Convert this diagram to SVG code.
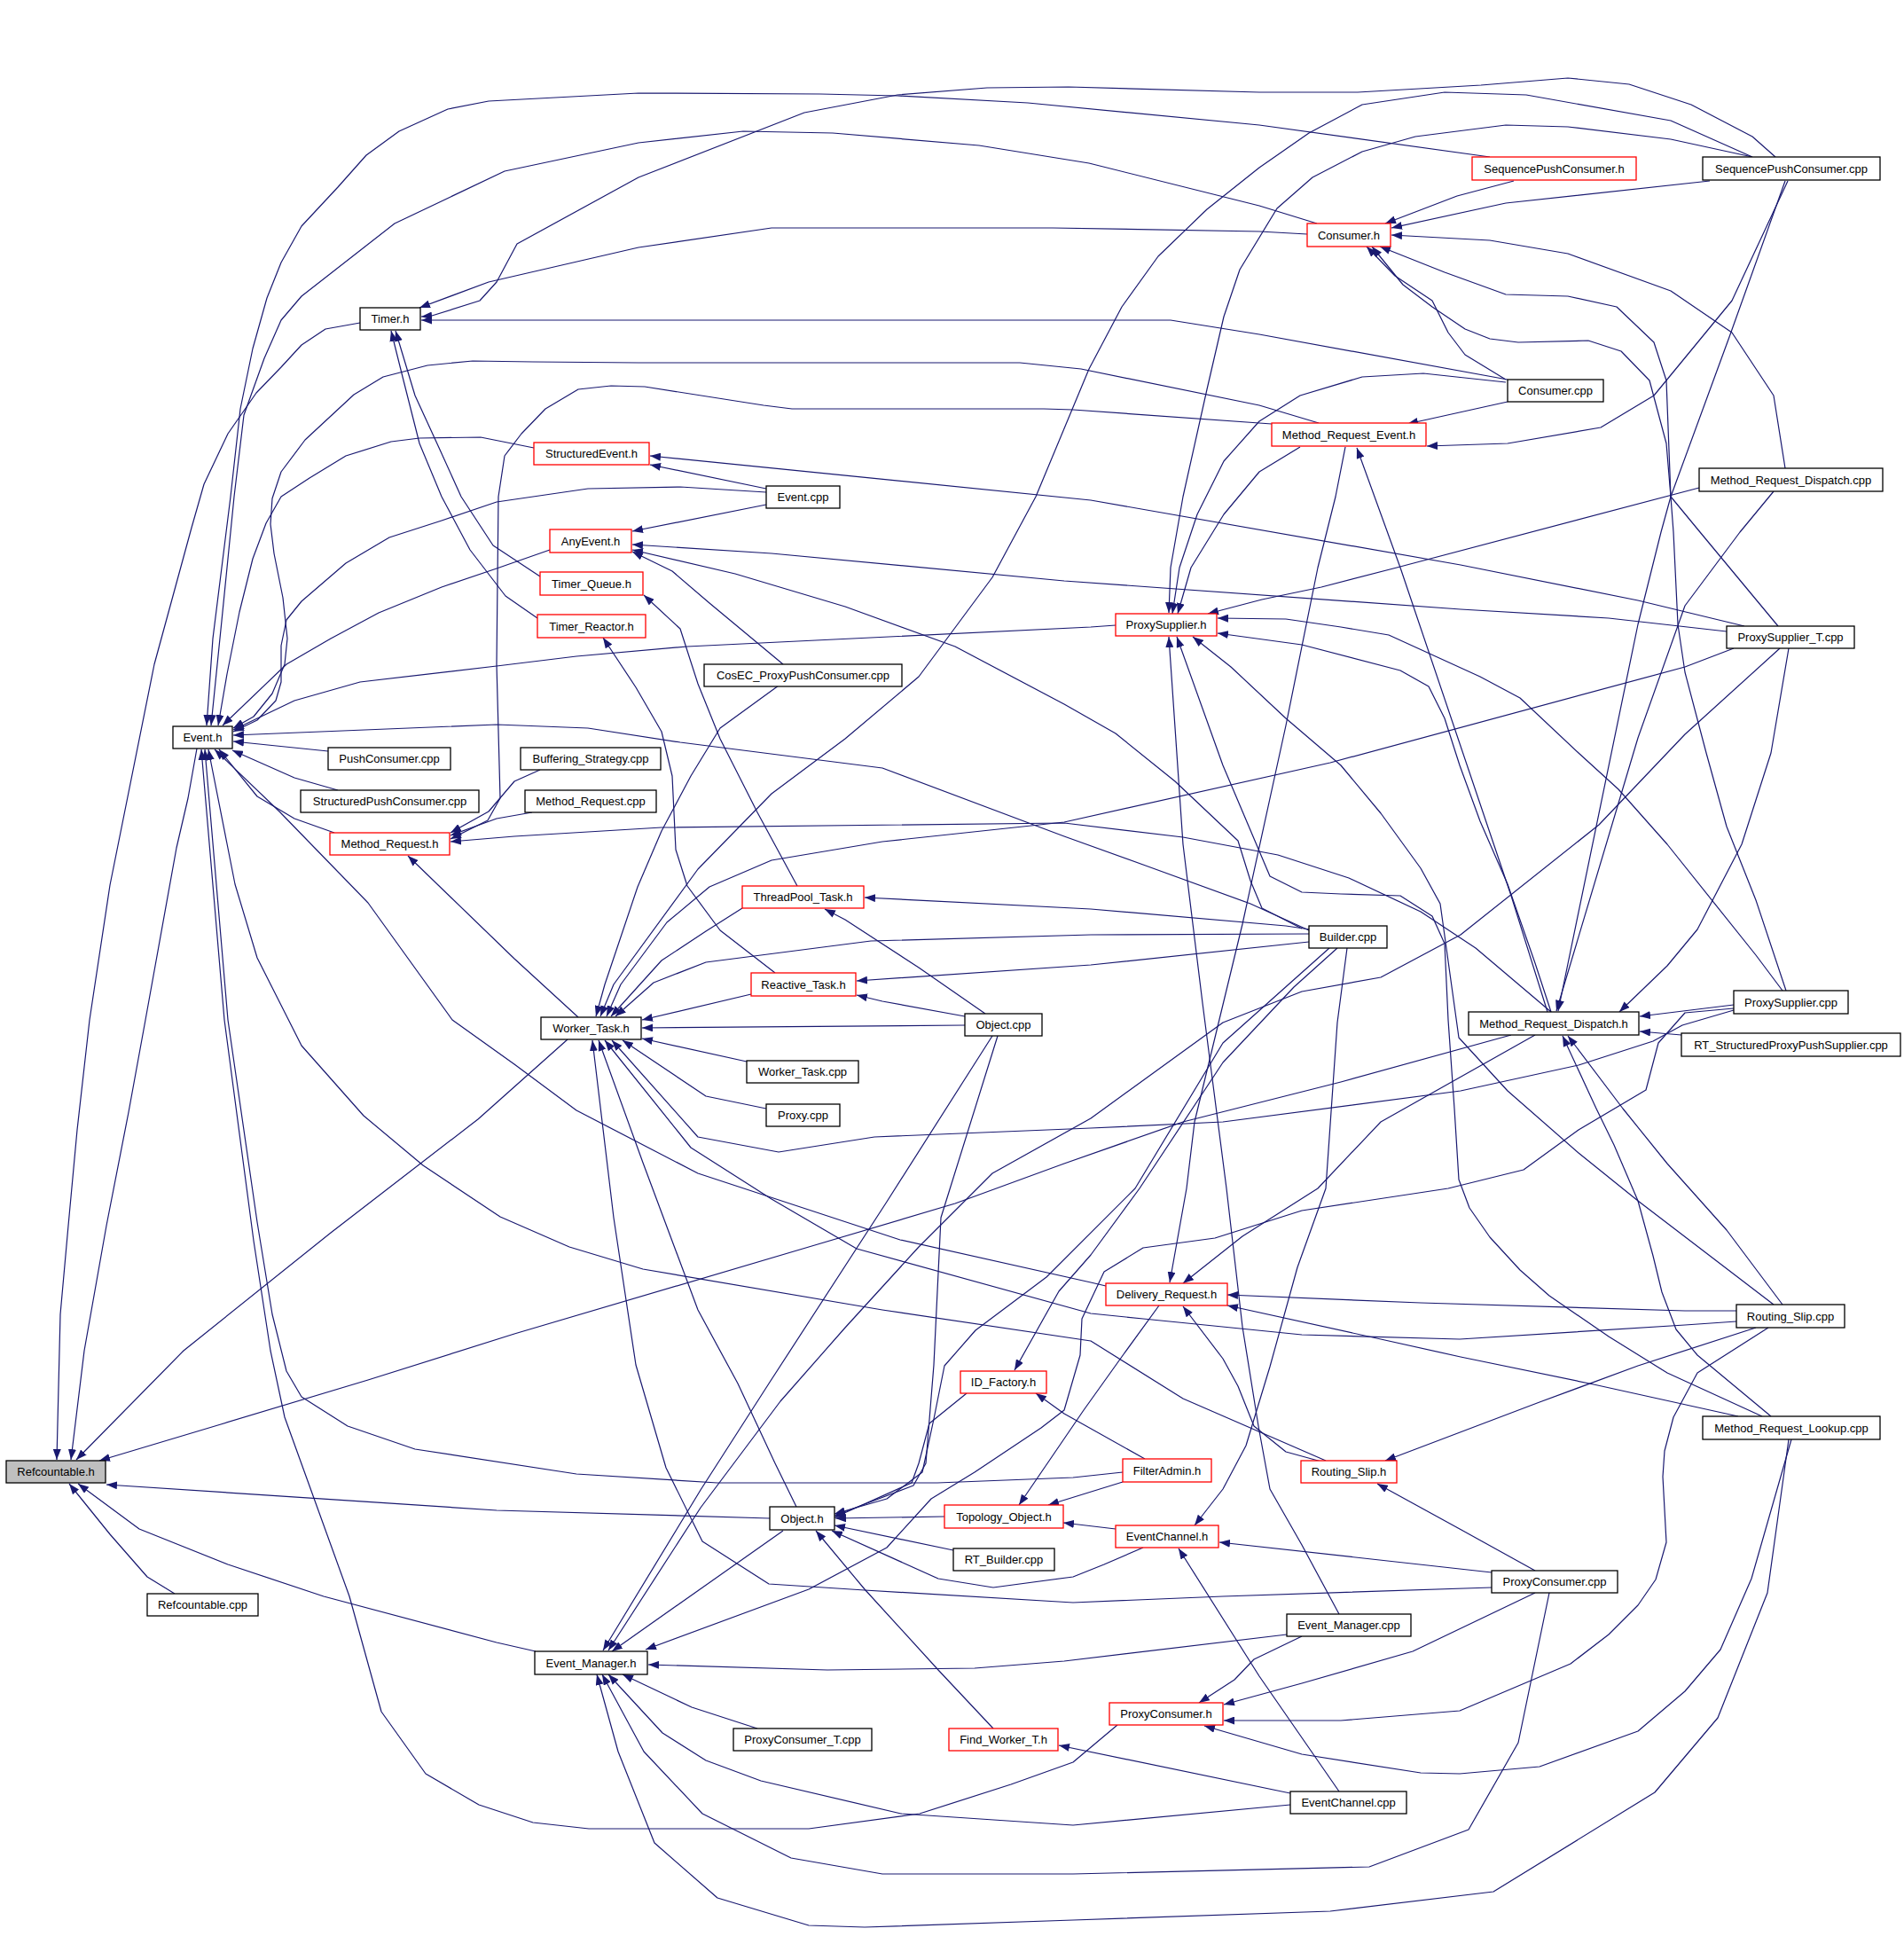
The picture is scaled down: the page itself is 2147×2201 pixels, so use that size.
<svg xmlns="http://www.w3.org/2000/svg" width="2147" height="2201" viewBox="0 0 2147 2201">
<defs>
<marker id="ah" viewBox="0 0 12 9" refX="12" refY="4.5" markerWidth="12" markerHeight="9" markerUnits="userSpaceOnUse" orient="auto"><path d="M0,0 L12,4.5 L0,9 z" fill="#191970"/></marker>
<style>
.n rect{fill:#fff;stroke:#000;stroke-width:1.3}
.r rect{fill:#fff;stroke:#ff0000;stroke-width:1.3}
.g rect{fill:#bfbfbf;stroke:#000;stroke-width:1.3}
text{font-family:"Liberation Sans",Arial,Helvetica,sans-serif;font-size:13px;text-anchor:middle;fill:#000}
#edges path{fill:none;stroke:#191970;stroke-width:1.2;stroke-linejoin:round;marker-end:url(#ah)}
</style>
</defs>
<rect width="2147" height="2201" fill="#fff"/>
<g id="edges">
<path d="M406,364 L367,371 L340,389 L317,414 L289,443 L257,489 L230,546 L216,595 L174,749 L124,998 L101,1150 L87,1274 L77,1382 L68,1482 L64,1646"/>
<path d="M222,844 L212,900 L199,956 L164,1150 L145,1254 L120,1382 L95,1523 L80,1646"/>
<path d="M640,1172 L539,1262 L373,1390 L207,1523 L86,1646"/>
<path d="M1704,1167 L1512,1220 L1334,1265 L1200,1312 L1077,1357 L912,1406 L580,1504 L415,1556 L249,1606 L112,1647"/>
<path d="M868,1712 L560,1703 L120,1674"/>
<path d="M197,1797 L166,1778 L124,1730 L78,1673"/>
<path d="M604,1862 L560,1852 L365,1800 L257,1764 L157,1724 L88,1673"/>
<path d="M1680,177 L1420,141 L1159,116 L1012,108 L925,106 L720,105 L551,114 L505,123 L450,148 L413,175 L381,211 L340,255 L317,296 L301,336 L285,393 L271,461 L260,560 L240,720 L233,818"/>
<path d="M1485,252 L1420,232 L1228,184 L1104,164 L939,150 L838,148 L720,161 L569,193 L445,252 L340,334 L317,361 L298,404 L275,468 L264,560 L250,700 L238,818"/>
<path d="M602,505 L542,493 L473,494 L441,498 L390,514 L349,539 L317,560 L300,590 L285,630 L270,690 L256,760 L246,818"/>
<path d="M1487,477 L1420,457 L1219,416 L1150,409 L720,409 L601,408 L533,407 L482,412 L432,425 L399,445 L344,496 L317,532 L307,562 L305,591 L309,624 L319,674 L324,720 L321,749 L307,782 L286,808 L263,821"/>
<path d="M864,555 L767,549 L663,551 L560,566 L498,587 L439,606 L390,635 L340,678 L323,699 L317,728 L317,769 L311,790 L290,812 L263,825"/>
<path d="M620,620 L560,641 L498,662 L427,691 L373,720 L323,749 L251,818"/>
<path d="M1258,705 L1230,707 L775,729 L650,740 L560,751 L406,769 L332,790 L263,823"/>
<path d="M1476,1049 L1410,1019 L1289,975 L1200,943 L995,866 L767,837 L663,821 L560,817 L263,829"/>
<path d="M370,847 L263,836"/>
<path d="M381,891 L332,877 L262,846"/>
<path d="M377,939 L332,923 L290,898 L247,845"/>
<path d="M1247,1450 L1230,1446 L1015,1398 L787,1323 L650,1252 L580,1200 L510,1150 L415,1018 L315,915 L242,845"/>
<path d="M1495,1647 L1334,1577 L1230,1512 L995,1477 L725,1431 L642,1406 L564,1372 L477,1314 L410,1258 L340,1179 L290,1080 L265,997 L235,845"/>
<path d="M1266,1660 L1210,1666 L1057,1672 L809,1672 L650,1662 L468,1634 L392,1608 L340,1575 L323,1546 L307,1482 L290,1378 L257,1150 L231,845"/>
<path d="M1260,1945 L1210,1987 L1140,2012 L1037,2045 L912,2062 L664,2062 L601,2055 L540,2035 L480,2000 L430,1930 L394,1800 L321,1598 L305,1523 L286,1399 L253,1150 L227,845"/>
<path d="M2002,177 L1976,154 L1907,118 L1837,95 L1768,88 L1670,96 L1531,104 L1420,104 L1205,98 L1113,99 L1012,107 L907,127 L720,200 L583,275 L560,318 L541,339 L487,356 L475,357"/>
<path d="M1474,264 L1420,261 L1187,257 L870,257 L720,279 L551,318 L473,347"/>
<path d="M1700,428 L1420,377 L1320,361 L475,361"/>
<path d="M609,650 L556,615 L520,560 L496,507 L468,446 L446,373"/>
<path d="M606,697 L570,672 L530,620 L498,560 L473,500 L455,429 L441,373"/>
<path d="M864,551 L733,524"/>
<path d="M1967,706 L1847,677 L1647,637 L1230,564 L733,514"/>
<path d="M864,569 L713,599"/>
<path d="M1947,712 L1814,697 L1647,687 L1200,655 L870,624 L713,614"/>
<path d="M1468,1047 L1423,1024 L1410,993 L1396,948 L1325,881 L1258,827 L1200,794 L1077,729 L953,684 L829,647 L713,620"/>
<path d="M883,749 L800,680 L758,644 L713,622"/>
<path d="M899,999 L854,916 L812,833 L787,771 L767,709 L726,671"/>
<path d="M874,1097 L812,1049 L775,999 L762,958 L758,875 L746,825 L717,775 L680,719"/>
<path d="M609,868 L580,881 L551,915 L508,939"/>
<path d="M600,916 L560,923 L508,942"/>
<path d="M1434,478 L1210,462 L1177,461 L893,461 L861,457 L727,436 L689,435 L652,439 L615,461 L588,489 L569,514 L562,560 L560,749 L564,900 L550,925 L508,946"/>
<path d="M1749,1141 L1664,1069 L1602,1028 L1521,990 L1441,964 L1334,944 L1200,928 L746,933 L580,943 L508,949"/>
<path d="M652,1147 L580,1081 L460,965"/>
<path d="M1477,1048 L1450,1044 L1230,1025 L975,1012"/>
<path d="M1111,1143 L1036,1091 L953,1037 L930,1025"/>
<path d="M1476,1062 L1230,1088 L966,1106"/>
<path d="M1088,1146 L995,1129 L966,1122"/>
<path d="M1976,177 L1884,136 L1721,107 L1629,104 L1536,118 L1476,150 L1420,189 L1361,236 L1306,289 L1265,346 L1228,416 L1168,560 L1119,651 L1036,763 L953,833 L870,895 L787,980 L692,1110 L677,1146"/>
<path d="M878,773 L812,821 L779,875 L746,937 L719,1000 L682,1110 L672,1146"/>
<path d="M1955,731 L1900,752 L1500,860 L1200,927 L995,949 L870,970 L800,1000 L752,1040 L700,1110 L684,1146"/>
<path d="M837,1024 L796,1050 L746,1083 L689,1146"/>
<path d="M1476,1053 L1230,1054 L982,1061 L796,1085 L737,1108 L694,1146"/>
<path d="M847,1121 L724,1150"/>
<path d="M1088,1156 L724,1159"/>
<path d="M842,1197 L724,1171"/>
<path d="M864,1250 L796,1236 L702,1173"/>
<path d="M1955,1139 L1897,1156 L1864,1174 L1780,1201 L1647,1230 L1379,1265 L1230,1272 L986,1282 L878,1299 L787,1282 L690,1173"/>
<path d="M1958,1490 L1900,1494 L1646,1510 L1468,1505 L1289,1487 L1230,1481 L966,1408 L870,1352 L779,1294 L682,1173"/>
<path d="M898,1699 L874,1650 L832,1560 L787,1477 L725,1311 L675,1173"/>
<path d="M1682,1790 L1379,1800 L1210,1807 L975,1793 L867,1786 L792,1738 L751,1655 L717,1539 L692,1373 L668,1173"/>
<path d="M1707,204 L1643,221 L1562,252"/>
<path d="M1928,204 L1698,229 L1569,257"/>
<path d="M1698,428 L1652,400 L1633,375 L1615,339 L1573,311 L1541,278"/>
<path d="M2013,528 L2000,446 L1953,375 L1884,328 L1768,286 L1680,271 L1569,265"/>
<path d="M2005,706 L1917,600 L1884,560 L1879,500 L1860,429 L1828,396 L1791,384 L1712,386 L1680,382 L1652,371 L1615,346 L1582,321 L1547,278"/>
<path d="M2014,1117 L1980,1015 L1947,932 L1924,849 L1900,758 L1892,704 L1887,600 L1884,560 L1879,429 L1865,386 L1823,346 L1768,334 L1698,332 L1629,307 L1556,278"/>
<path d="M1976,177 L1884,157 L1768,143 L1698,141 L1596,154 L1536,171 L1480,200 L1440,235 L1398,304 L1380,357 L1361,439 L1334,560 L1320,640 L1318,691"/>
<path d="M1698,431 L1605,421 L1536,425 L1466,446 L1420,475 L1380,520 L1350,580 L1330,640 L1322,692"/>
<path d="M1466,504 L1420,532 L1380,580 L1343,640 L1328,692"/>
<path d="M1916,550 L1575,640 L1490,662 L1423,676 L1362,692"/>
<path d="M2010,1117 L1980,1077 L1880,952 L1825,890 L1780,849 L1714,787 L1669,763 L1566,716 L1512,707 L1450,698 L1373,697"/>
<path d="M1749,1141 L1731,1086 L1700,997 L1669,926 L1646,863 L1629,810 L1611,774 L1579,756 L1468,727 L1373,714"/>
<path d="M1510,1820 L1468,1742 L1432,1679 L1419,1608 L1401,1496 L1383,1340 L1356,1131 L1334,952 L1318,718"/>
<path d="M1987,1597 L1880,1548 L1814,1507 L1747,1461 L1714,1432 L1680,1395 L1657,1362 L1645,1330 L1640,1250 L1633,1150 L1629,1064 L1615,1033 L1579,1010 L1512,1008 L1468,1006 L1432,988 L1379,863 L1327,718"/>
<path d="M2000,1471 L1847,1354 L1780,1300 L1700,1230 L1645,1170 L1624,1019 L1602,979 L1557,917 L1512,863 L1450,810 L1388,752 L1345,718"/>
<path d="M1700,453 L1587,478"/>
<path d="M2016,204 L1953,339 L1865,446 L1805,482 L1700,500 L1609,503"/>
<path d="M1745,1141 L1704,1010 L1579,640 L1530,505"/>
<path d="M1517,504 L1506,560 L1486,640 L1450,818 L1401,1042 L1347,1265 L1338,1340 L1319,1446"/>
<path d="M2013,204 L1950,380 L1884,560 L1873,600 L1847,704 L1757,1140"/>
<path d="M2000,554 L1962,600 L1900,683 L1847,832 L1755,1140"/>
<path d="M2017,731 L1997,849 L1964,952 L1914,1048 L1880,1089 L1826,1141"/>
<path d="M1955,1133 L1849,1146"/>
<path d="M1896,1167 L1849,1163"/>
<path d="M1997,1597 L1914,1528 L1890,1499 L1874,1457 L1864,1416 L1847,1354 L1820,1291 L1800,1250 L1762,1168"/>
<path d="M2010,1471 L1947,1387 L1880,1312 L1830,1250 L1768,1168"/>
<path d="M2007,731 L1900,828 L1803,930 L1647,1054 L1557,1102 L1468,1118 L1379,1153 L1230,1261 L1119,1323 L1036,1406 L953,1497 L880,1580 L790,1700 L686,1861"/>
<path d="M1499,1069 L1379,1176 L1280,1340 L1180,1440 L1100,1500 L1065,1540 L1053,1600 L1040,1660 L1000,1690 L941,1707"/>
<path d="M1125,1168 L1061,1373 L1053,1539 L1044,1650 L1030,1675 L941,1709"/>
<path d="M1508,1069 L1459,1113 L1379,1198 L1285,1340 L1230,1415 L1194,1456 L1144,1545"/>
<path d="M1090,1571 L1048,1605 L1036,1650 L1028,1672 L941,1711"/>
<path d="M1065,1710 L942,1712"/>
<path d="M1075,1748 L941,1720"/>
<path d="M1289,1745 L1245,1764 L1210,1778 L1120,1790 L1058,1780 L938,1726"/>
<path d="M1120,1949 L1058,1883 L975,1792 L920,1726"/>
<path d="M883,1726 L690,1862"/>
<path d="M1955,1137 L1900,1142 L1870,1176 L1856,1229 L1780,1274 L1718,1319 L1633,1340 L1468,1365 L1370,1396 L1289,1407 L1245,1434 L1220,1487 L1218,1528 L1200,1590 L1174,1610 L1099,1660 L1050,1690 L1000,1745 L912,1792 L728,1860"/>
<path d="M854,1949 L780,1925 L702,1888"/>
<path d="M1455,2035 L1210,2058 L1016,2045 L858,2008 L796,1985 L747,1954 L686,1888"/>
<path d="M1747,1796 L1712,1965 L1656,2063 L1544,2105 L1210,2113 L995,2113 L892,2095 L792,2045 L726,1975 L679,1888"/>
<path d="M2017,1623 L1993,1796 L1937,1937 L1866,2021 L1684,2133 L1500,2155 L1210,2165 L975,2173 L912,2171 L809,2140 L738,2078 L697,1975 L673,1888"/>
<path d="M1451,1843 L1200,1873 L1099,1881 L933,1883 L731,1877"/>
<path d="M1468,1845 L1414,1871 L1392,1894 L1352,1920"/>
<path d="M1731,1796 L1593,1862 L1468,1898 L1380,1922"/>
<path d="M1994,1497 L1914,1548 L1887,1598 L1877,1636 L1875,1665 L1879,1739 L1867,1781 L1847,1810 L1814,1843 L1771,1876 L1646,1929 L1512,1940 L1380,1940"/>
<path d="M2020,1623 L1975,1780 L1940,1860 L1900,1907 L1847,1952 L1736,1992 L1646,2000 L1602,1999 L1468,1978 L1358,1946"/>
<path d="M1682,1773 L1375,1739"/>
<path d="M1731,1771 L1646,1724 L1553,1673"/>
<path d="M1510,2020 L1420,1890 L1329,1746"/>
<path d="M1455,2022 L1194,1968"/>
<path d="M1519,1069 L1508,1153 L1495,1340 L1463,1429 L1432,1541 L1405,1630 L1379,1679 L1347,1720"/>
<path d="M1258,1724 L1199,1717"/>
<path d="M1266,1671 L1182,1697"/>
<path d="M1291,1645 L1200,1594 L1168,1571"/>
<path d="M1307,1472 L1267,1527 L1222,1590 L1149,1697"/>
<path d="M1731,1167 L1557,1265 L1486,1340 L1401,1394 L1334,1447"/>
<path d="M1958,1478 L1900,1478 L1602,1469 L1384,1460"/>
<path d="M1960,1597 L1797,1561 L1647,1530 L1557,1510 L1384,1472"/>
<path d="M1490,1648 L1450,1637 L1414,1608 L1396,1563 L1379,1532 L1334,1473"/>
<path d="M1980,1497 L1847,1540 L1736,1581 L1562,1647"/>
<path d="M1119,1168 L1000,1355 L867,1560 L790,1680 L680,1861"/>
</g>
<g id="n-refcountable-h" class="g"><rect x="7" y="1647" width="112" height="25"/><text x="63" y="1664">Refcountable.h</text></g>
<g id="n-refcountable-cpp" class="n"><rect x="166" y="1797" width="125" height="25"/><text x="228.5" y="1814">Refcountable.cpp</text></g>
<g id="n-event-h" class="n"><rect x="195" y="819" width="67" height="25"/><text x="228.5" y="836">Event.h</text></g>
<g id="n-timer-h" class="n"><rect x="406" y="347" width="68" height="25"/><text x="440" y="364">Timer.h</text></g>
<g id="n-pushconsumer-cpp" class="n"><rect x="370" y="843" width="138" height="25"/><text x="439" y="860">PushConsumer.cpp</text></g>
<g id="n-structuredpushconsumer-cpp" class="n"><rect x="339" y="891" width="201" height="25"/><text x="439.5" y="908">StructuredPushConsumer.cpp</text></g>
<g id="n-method-request-h" class="r"><rect x="372" y="939" width="135" height="25"/><text x="439.5" y="956">Method_Request.h</text></g>
<g id="n-buffering-strategy-cpp" class="n"><rect x="587" y="843" width="158" height="25"/><text x="666" y="860">Buffering_Strategy.cpp</text></g>
<g id="n-method-request-cpp" class="n"><rect x="592" y="891" width="148" height="25"/><text x="666" y="908">Method_Request.cpp</text></g>
<g id="n-structuredevent-h" class="r"><rect x="602" y="499" width="130" height="25"/><text x="667" y="516">StructuredEvent.h</text></g>
<g id="n-event-cpp" class="n"><rect x="864" y="548" width="83" height="25"/><text x="905.5" y="565">Event.cpp</text></g>
<g id="n-anyevent-h" class="r"><rect x="620" y="597" width="92" height="26"/><text x="666" y="614.5">AnyEvent.h</text></g>
<g id="n-timer-queue-h" class="r"><rect x="609" y="645" width="116" height="26"/><text x="667" y="662.5">Timer_Queue.h</text></g>
<g id="n-timer-reactor-h" class="r"><rect x="606" y="693" width="122" height="26"/><text x="667" y="710.5">Timer_Reactor.h</text></g>
<g id="n-cosec-proxypushconsumer-cpp" class="n"><rect x="794" y="749" width="223" height="25"/><text x="905.5" y="766">CosEC_ProxyPushConsumer.cpp</text></g>
<g id="n-threadpool-task-h" class="r"><rect x="837" y="999" width="137" height="25"/><text x="905.5" y="1016">ThreadPool_Task.h</text></g>
<g id="n-reactive-task-h" class="r"><rect x="847" y="1097" width="118" height="26"/><text x="906" y="1114.5">Reactive_Task.h</text></g>
<g id="n-worker-task-h" class="n"><rect x="610" y="1147" width="113" height="25"/><text x="666.5" y="1164">Worker_Task.h</text></g>
<g id="n-object-cpp" class="n"><rect x="1088" y="1143" width="87" height="25"/><text x="1131.5" y="1160">Object.cpp</text></g>
<g id="n-worker-task-cpp" class="n"><rect x="842" y="1196" width="126" height="25"/><text x="905" y="1213">Worker_Task.cpp</text></g>
<g id="n-proxy-cpp" class="n"><rect x="864" y="1245" width="83" height="25"/><text x="905.5" y="1262">Proxy.cpp</text></g>
<g id="n-id-factory-h" class="r"><rect x="1083" y="1546" width="97" height="25"/><text x="1131.5" y="1563">ID_Factory.h</text></g>
<g id="n-object-h" class="n"><rect x="868" y="1699" width="73" height="26"/><text x="904.5" y="1716.5">Object.h</text></g>
<g id="n-topology-object-h" class="r"><rect x="1065" y="1697" width="134" height="26"/><text x="1132" y="1714.5">Topology_Object.h</text></g>
<g id="n-rt-builder-cpp" class="n"><rect x="1075" y="1746" width="114" height="25"/><text x="1132" y="1763">RT_Builder.cpp</text></g>
<g id="n-event-manager-h" class="n"><rect x="603" y="1862" width="127" height="26"/><text x="666.5" y="1879.5">Event_Manager.h</text></g>
<g id="n-proxyconsumer-t-cpp" class="n"><rect x="827" y="1949" width="156" height="25"/><text x="905" y="1966">ProxyConsumer_T.cpp</text></g>
<g id="n-find-worker-t-h" class="r"><rect x="1070" y="1949" width="123" height="25"/><text x="1131.5" y="1966">Find_Worker_T.h</text></g>
<g id="n-consumer-h" class="r"><rect x="1474" y="252" width="94" height="26"/><text x="1521" y="269.5">Consumer.h</text></g>
<g id="n-sequencepushconsumer-h" class="r"><rect x="1660" y="177" width="185" height="26"/><text x="1752.5" y="194.5">SequencePushConsumer.h</text></g>
<g id="n-sequencepushconsumer-cpp" class="n"><rect x="1920" y="177" width="200" height="26"/><text x="2020" y="194.5">SequencePushConsumer.cpp</text></g>
<g id="n-consumer-cpp" class="n"><rect x="1700" y="428" width="108" height="25"/><text x="1754" y="445">Consumer.cpp</text></g>
<g id="n-method-request-event-h" class="r"><rect x="1434" y="477" width="174" height="26"/><text x="1521" y="494.5">Method_Request_Event.h</text></g>
<g id="n-method-request-dispatch-cpp" class="n"><rect x="1916" y="528" width="207" height="26"/><text x="2019.5" y="545.5">Method_Request_Dispatch.cpp</text></g>
<g id="n-proxysupplier-h" class="r"><rect x="1258" y="692" width="114" height="25"/><text x="1315" y="709">ProxySupplier.h</text></g>
<g id="n-proxysupplier-t-cpp" class="n"><rect x="1947" y="706" width="144" height="25"/><text x="2019" y="723">ProxySupplier_T.cpp</text></g>
<g id="n-builder-cpp" class="n"><rect x="1476" y="1044" width="88" height="25"/><text x="1520" y="1061">Builder.cpp</text></g>
<g id="n-proxysupplier-cpp" class="n"><rect x="1955" y="1117" width="129" height="26"/><text x="2019.5" y="1134.5">ProxySupplier.cpp</text></g>
<g id="n-method-request-dispatch-h" class="n"><rect x="1656" y="1141" width="192" height="26"/><text x="1752" y="1158.5">Method_Request_Dispatch.h</text></g>
<g id="n-rt-structuredproxypushsupplier-cpp" class="n"><rect x="1896" y="1165" width="247" height="26"/><text x="2019.5" y="1182.5">RT_StructuredProxyPushSupplier.cpp</text></g>
<g id="n-delivery-request-h" class="r"><rect x="1247" y="1447" width="137" height="25"/><text x="1315.5" y="1464">Delivery_Request.h</text></g>
<g id="n-routing-slip-cpp" class="n"><rect x="1958" y="1471" width="122" height="26"/><text x="2019" y="1488.5">Routing_Slip.cpp</text></g>
<g id="n-method-request-lookup-cpp" class="n"><rect x="1920" y="1597" width="200" height="26"/><text x="2020" y="1614.5">Method_Request_Lookup.cpp</text></g>
<g id="n-filteradmin-h" class="r"><rect x="1266" y="1645" width="100" height="26"/><text x="1316" y="1662.5">FilterAdmin.h</text></g>
<g id="n-routing-slip-h" class="r"><rect x="1467" y="1647" width="108" height="25"/><text x="1521" y="1664">Routing_Slip.h</text></g>
<g id="n-eventchannel-h" class="r"><rect x="1258" y="1720" width="116" height="25"/><text x="1316" y="1737">EventChannel.h</text></g>
<g id="n-proxyconsumer-cpp" class="n"><rect x="1682" y="1771" width="142" height="25"/><text x="1753" y="1788">ProxyConsumer.cpp</text></g>
<g id="n-event-manager-cpp" class="n"><rect x="1451" y="1820" width="140" height="25"/><text x="1521" y="1837">Event_Manager.cpp</text></g>
<g id="n-proxyconsumer-h" class="r"><rect x="1251" y="1920" width="128" height="25"/><text x="1315" y="1937">ProxyConsumer.h</text></g>
<g id="n-eventchannel-cpp" class="n"><rect x="1455" y="2020" width="131" height="25"/><text x="1520.5" y="2037">EventChannel.cpp</text></g>
</svg>
